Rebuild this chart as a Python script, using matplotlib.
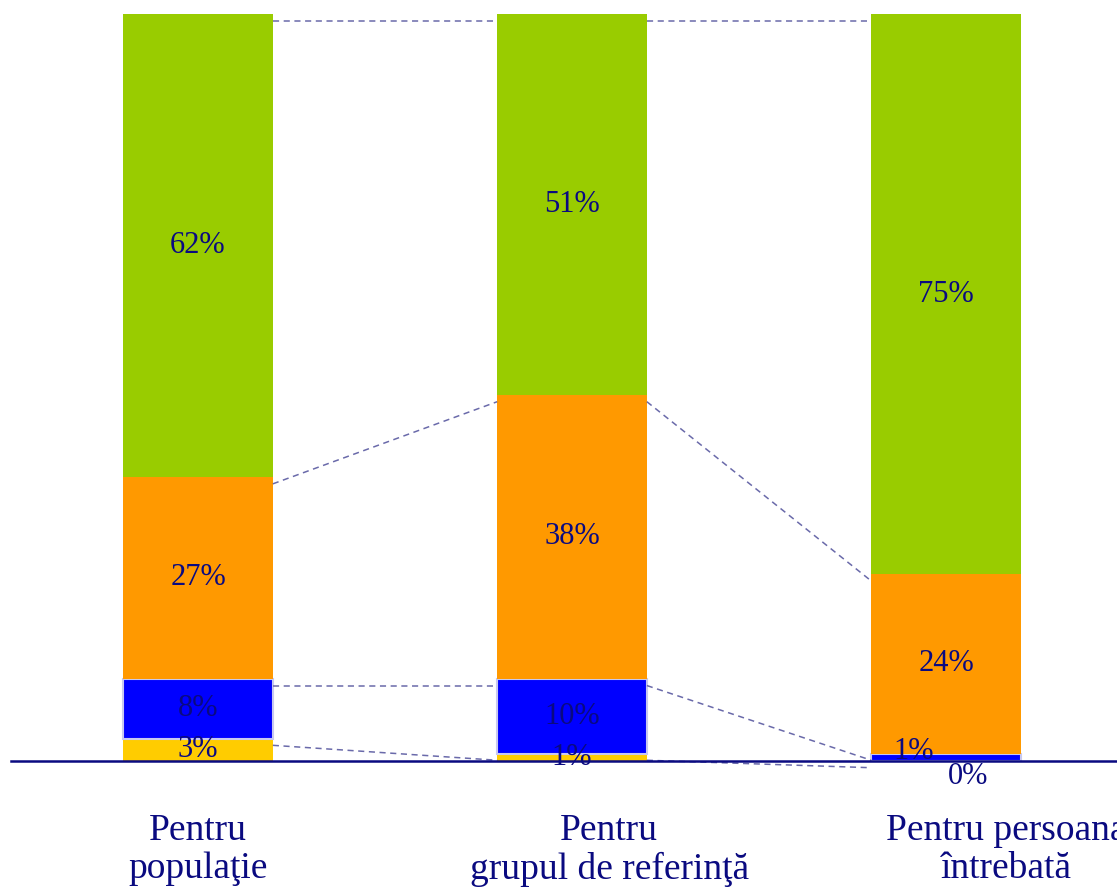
import numpy as np
import matplotlib
matplotlib.use("Agg")
import matplotlib.pyplot as plt

plt.rcParams["font.family"] = ["Liberation Serif", "DejaVu Serif"]

# Categories and shares (%), bottom to top.
categories = ["Pentru\npopulaţie", "Pentru\ngrupul de referinţă", "Pentru persoana\nîntrebată"]
yellow = [3, 1, 0]
blue = [8, 10, 1]
orange = [27, 38, 24]
green = [62, 51, 75]

series = [yellow, blue, orange, green]
colors = ["#FFCC00", "#0000FF", "#FF9900", "#99CC00"]
edges = ["none", "#C8C8F0", "none", "none"]

navy = "#0A0A80"
x = np.arange(len(categories))
w = 0.4
# category labels sit a bit right of the bars in the original
label_shift = np.array([0, 0.099, 0.16])

fig = plt.figure(figsize=(11.17, 8.90), dpi=100)
ax = fig.add_axes([11/1117, 129/890, 1106/1117, 747/890])

bottom = np.zeros(len(categories))
tops = []
for vals, c, ec in zip(series, colors, edges):
    vals = np.array(vals, dtype=float)
    ax.bar(x, vals, w, bottom=bottom, color=c, edgecolor=ec,
           linewidth=1.5 if ec != "none" else 0, zorder=2)
    # value labels at segment centre
    for i, v in enumerate(vals):
        dx, dy = 0, 0
        if i == 2 and c == "#0000FF":
            dx, dy = -23, 4
        if i == 2 and c == "#FFCC00":
            dx, dy = 16, -11
        ax.annotate(f"{int(v)}%", (x[i], bottom[i] + v / 2), xytext=(dx, dy),
                    textcoords="offset points", ha="center", va="center",
                    fontsize=22, color=navy, zorder=4, annotation_clip=False)
    bottom = bottom + vals
    tops.append(bottom.copy())

# dashed series lines between neighbouring bars
off = 0.9
for top in tops:
    for i in range(len(categories) - 1):
        ax.plot([x[i] + w / 2, x[i + 1] - w / 2], [top[i] - off, top[i + 1] - off],
                ls=(0, (4, 3)), lw=1.1, color="#6A6AAA", zorder=3, clip_on=False)

ax.set_xlim(-0.5, 2.457)
ax.set_ylim(0, 100)
for s in ["top", "right", "left"]:
    ax.spines[s].set_visible(False)
ax.spines["bottom"].set_color(navy)
ax.spines["bottom"].set_linewidth(1.8)
ax.spines["bottom"].set_zorder(5)
ax.set_yticks([])
ax.set_xticks(x + label_shift)
ax.set_xticklabels(categories, fontsize=27, color=navy)
ax.tick_params(axis="x", length=0, pad=38)
for t in ax.get_xticklabels():
    t.set_linespacing(1.12)

fig.savefig("out.png", dpi=100)
